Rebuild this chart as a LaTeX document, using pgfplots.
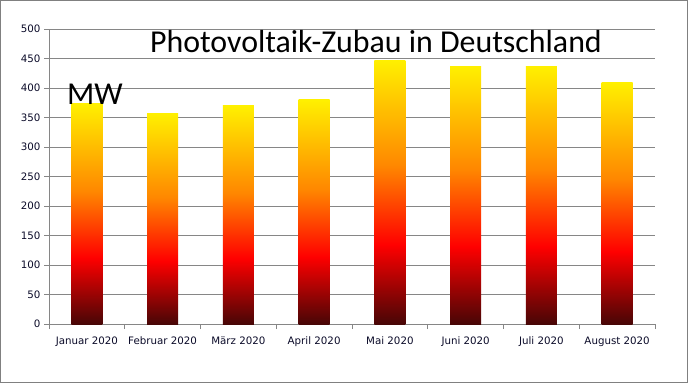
\documentclass[border=0pt]{standalone}
\usepackage{pgfplots}
\pgfplotsset{compat=1.18}
\usepackage{fontspec}
\setmainfont{DejaVu Sans}
\newfontfamily\calibri{Carlito}
\definecolor{pvdark}{RGB}{72,6,6}
\definecolor{pvred}{RGB}{255,0,0}
\definecolor{pvorange}{RGB}{255,135,0}
\definecolor{pvyellow}{RGB}{255,240,0}
\definecolor{gridgray}{RGB}{134,134,134}
\definecolor{framegray}{RGB}{128,128,128}
\definecolor{labelcol}{RGB}{10,10,40}
\pgfdeclareverticalshading{pv}{100bp}{color(0bp)=(pvdark); color(25bp)=(pvdark); color(40bp)=(pvred); color(55bp)=(pvorange); color(75bp)=(pvyellow); color(100bp)=(pvyellow)}
\pgfplotsset{pvbar/.style={ybar, bar width=31bp, draw=none, shading=pv}}
\begin{document}
\begin{tikzpicture}[x=1bp,y=1bp]
\draw[framegray, line width=1.2bp] (0.6,0.6) rectangle (687.4,382.4);
\begin{axis}[
  at={(49bp,59bp)}, anchor=south west,
  scale only axis, width=606bp, height=295bp,
  xmin=-0.5, xmax=7.5, ymin=0, ymax=500,
  axis x line*=bottom, axis y line*=left,
  axis line style={gridgray, line width=0.8bp, -},
  ytick distance=50,
  ymajorgrids, grid style={gridgray, line width=0.8bp},
  xtick={0,...,7},
  xticklabels={Januar 2020, Februar 2020, März 2020, April 2020, Mai 2020, Juni 2020, Juli 2020, August 2020},
  minor xtick={-0.5,0.5,...,7.5},
  major x tick style={draw=none},
  minor x tick style={gridgray, line width=0.8bp},
  y tick style={gridgray, line width=0.8bp},
  tick align=outside, major tick length=5bp, minor tick length=5bp,
  ticklabel style={font=\fontsize{10.3}{12}\selectfont, text=labelcol},
  /pgf/number format/assume math mode=true,
  xticklabel style={yshift=-4bp},
  yticklabel style={xshift=0bp},
  clip=false,
]
\addplot[pvbar] coordinates {(0,374)};
\addplot[pvbar] coordinates {(1,357)};
\addplot[pvbar] coordinates {(2,370)};
\addplot[pvbar] coordinates {(3,380)};
\addplot[pvbar] coordinates {(4,447)};
\addplot[pvbar] coordinates {(5,437)};
\addplot[pvbar] coordinates {(6,437)};
\addplot[pvbar] coordinates {(7,410)};
\end{axis}
\node[font=\calibri\fontsize{32}{36}\selectfont] at (376,341) {Photovoltaik-Zubau in Deutschland};
\node[font=\calibri\fontsize{32}{36}\selectfont] at (95,289) {MW};
\end{tikzpicture}
\end{document}
